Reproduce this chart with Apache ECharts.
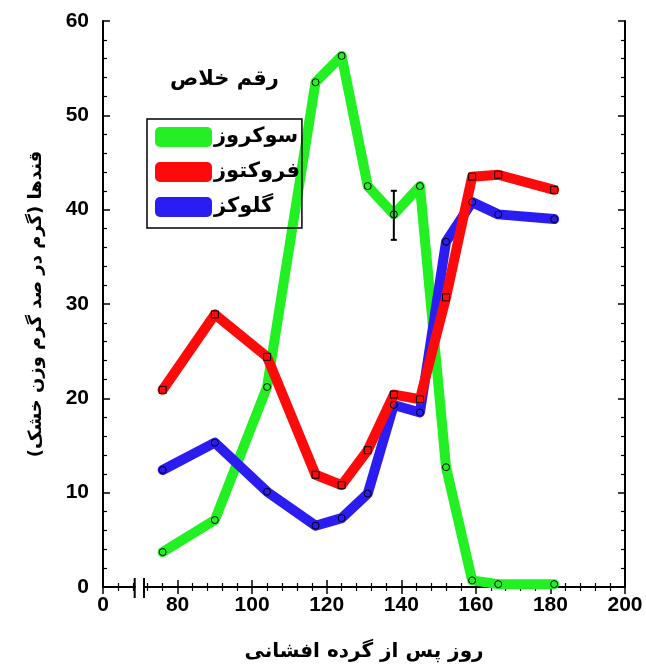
<!DOCTYPE html>
<html>
<head>
<meta charset="utf-8">
<script src="https://cdn.jsdelivr.net/npm/echarts@6/dist/echarts.min.js"></script>
<style>
  html, body { margin: 0; padding: 0; background: #fff; }
  #chart { width: 646px; height: 671px; }
</style>
</head>
<body>
<div id="chart"></div>
<script>
// روز پس از گرده افشانی
var days = [76, 90, 104, 117, 124, 131, 138, 145, 152, 159, 166, 181];
var sucrose = [3.7, 7.1, 21.2, 53.5, 56.3, 42.5, 39.5, 42.5, 12.7, 0.7, 0.3, 0.3];
var fructose = [20.9, 28.9, 24.4, 11.9, 10.8, 14.5, 20.4, 19.9, 30.7, 43.5, 43.7, 42.1];
var glucose = [12.4, 15.3, 10.1, 6.5, 7.3, 9.9, 19.3, 18.5, 36.6, 40.8, 39.5, 39.0];
// error bar on sucrose: [day, low, high]
var sucroseErr = [[138, 36.8, 42.0]];
var seriesNames = ['سوکروز', 'فروکتوز', 'گلوکز'];
var colors = ['#22f022', '#ff0a0a', '#2b1cf2'];
// axis break drawn between these days, the first tick (60) is labelled 0
var breakDays = [68.5, 71];

var faFont = 'DejaVu Sans';
var numFont = 'Liberation Sans';

function pairs(vals) {
  return days.map(function (d, i) { return [d, vals[i]]; });
}

var chart = echarts.init(document.getElementById('chart'));

var tickStyle = {
  axisLine: { show: true, lineStyle: { color: '#000', width: 2 } },
  axisTick: { show: true, inside: true, length: 7, lineStyle: { color: '#000', width: 1.5 } },
  minorTick: { show: true, splitNumber: 5, length: 4, lineStyle: { color: '#000', width: 1.2 } },
  splitLine: { show: false }
};

function lineSeries(name, vals, color, symbol) {
  return {
    name: name,
    type: 'line',
    data: pairs(vals),
    xAxisIndex: 0,
    yAxisIndex: 0,
    symbol: symbol,
    symbolSize: 7,
    lineStyle: { color: color, width: 10, cap: 'round', join: 'round' },
    itemStyle: { color: 'transparent', borderColor: '#000', borderWidth: 1 },
    emphasis: { disabled: true },
    animation: false
  };
}

var option = {
  backgroundColor: '#fff',
  animation: false,
  title: {
    text: 'رقم خلاص',
    left: 165,
    top: 64,
    textStyle: { fontFamily: faFont, fontWeight: 'bold', fontSize: 21, color: '#000' }
  },
  legend: {
    orient: 'vertical',
    left: 147,
    top: 119,
    padding: [5, 2, 8, 8],
    itemGap: 9,
    itemWidth: 57,
    itemHeight: 20,
    borderColor: '#000',
    borderWidth: 1.5,
    borderRadius: 0,
    textStyle: { fontFamily: faFont, fontWeight: 'bold', fontSize: 21, lineHeight: 26, color: '#000', padding: [0, 0, 0, -3] },
    data: seriesNames.map(function (n, i) {
      return { name: n, icon: 'roundRect', itemStyle: { color: colors[i], borderWidth: 0 } };
    })
  },
  grid: { left: 103, right: 21, top: 21, bottom: 84, outerBoundsMode: 'none' },
  xAxis: [
    Object.assign({
      type: 'value',
      position: 'bottom',
      min: 60,
      max: 200,
      interval: 20,
      name: 'روز پس از گرده افشانی',
      nameLocation: 'middle',
      nameGap: 55,
      nameTextStyle: { fontFamily: faFont, fontWeight: 'bold', fontSize: 20, color: '#000' },
      axisLabel: {
        margin: 8,
        fontFamily: numFont,
        fontWeight: 'bold',
        fontSize: 21,
        color: '#000',
        formatter: function (v) { return v === 60 ? '0' : String(v); }
      }
    }, tickStyle),
    Object.assign({
      type: 'value',
      position: 'top',
      min: 60,
      max: 200,
      interval: 20,
      axisLabel: { show: false }
    }, tickStyle)
  ],
  yAxis: [
    Object.assign({
      type: 'value',
      position: 'left',
      min: 0,
      max: 60,
      interval: 10,
      name: 'قندها (گرم در صد گرم وزن خشک)',
      nameLocation: 'middle',
      nameRotate: 90,
      nameGap: 58,
      nameTextStyle: { fontFamily: faFont, fontWeight: 'bold', fontSize: 18, color: '#000' },
      axisLabel: {
        margin: 14,
        fontFamily: numFont,
        fontWeight: 'bold',
        fontSize: 21,
        color: '#000'
      }
    }, tickStyle),
    Object.assign({
      type: 'value',
      position: 'right',
      min: 0,
      max: 60,
      interval: 10,
      axisLabel: { show: false }
    }, tickStyle)
  ],
  series: [
    lineSeries(seriesNames[0], sucrose, colors[0], 'circle'),
    lineSeries(seriesNames[2], glucose, colors[2], 'circle'),
    lineSeries(seriesNames[1], fructose, colors[1], 'rect'),
    {
      type: 'custom',
      xAxisIndex: 0,
      yAxisIndex: 0,
      data: sucroseErr,
      z: 5,
      silent: true,
      renderItem: function (params, api) {
        var x = api.value(0);
        var lo = api.coord([x, api.value(1)]);
        var hi = api.coord([x, api.value(2)]);
        var style = { stroke: '#000', lineWidth: 2 };
        return {
          type: 'group',
          children: [
            { type: 'line', shape: { x1: lo[0], y1: lo[1], x2: hi[0], y2: hi[1] }, style: style },
            { type: 'line', shape: { x1: lo[0] - 3, y1: lo[1], x2: lo[0] + 3, y2: lo[1] }, style: style },
            { type: 'line', shape: { x1: hi[0] - 3, y1: hi[1], x2: hi[0] + 3, y2: hi[1] }, style: style }
          ]
        };
      }
    }
  ]
};

chart.setOption(option);

// axis break marks on the bottom axis
var bx0 = chart.convertToPixel({ xAxisIndex: 0 }, breakDays[0]);
var bx1 = chart.convertToPixel({ xAxisIndex: 0 }, breakDays[1]);
var by = chart.convertToPixel({ yAxisIndex: 0 }, 0);
chart.setOption({
  graphic: [
    { type: 'rect', z: 100, shape: { x: bx0 + 1, y: by - 3, width: bx1 - bx0 - 2, height: 6 }, style: { fill: '#fff' } },
    { type: 'line', z: 101, shape: { x1: bx0, y1: by - 9, x2: bx0, y2: by + 11 }, style: { stroke: '#000', lineWidth: 2 } },
    { type: 'line', z: 101, shape: { x1: bx1, y1: by - 9, x2: bx1, y2: by + 11 }, style: { stroke: '#000', lineWidth: 2 } }
  ]
});

window.addEventListener('resize', function () {
  chart.resize();
});
</script>
</body>
</html>
